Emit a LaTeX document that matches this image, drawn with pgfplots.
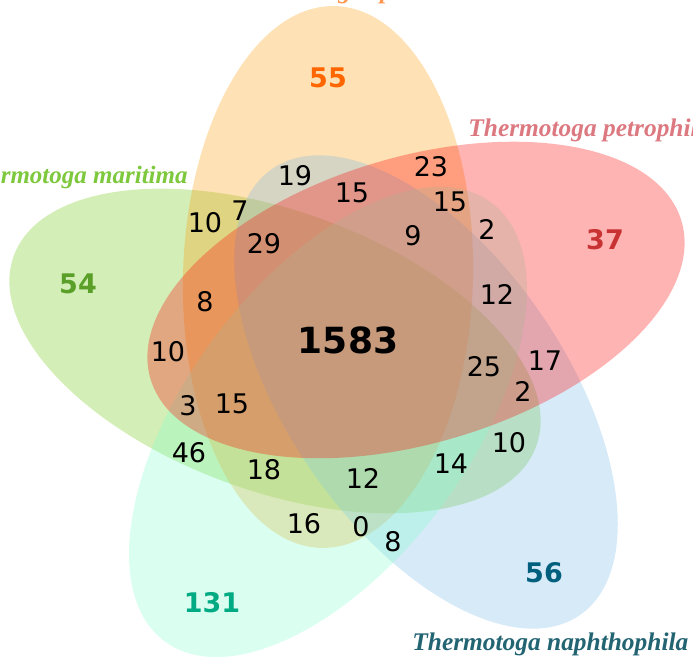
\documentclass[border=0pt]{standalone}
\usepackage{fontspec}
\setmainfont{DejaVu Sans}
\newfontfamily\labfont{Liberation Serif}
\usepackage{pgfplots}
\usepackage{pgfplotstable}
\pgfplotsset{compat=1.18}
\definecolor{cOrange}{RGB}{252,155,5}
\definecolor{cRed}{RGB}{255,5,5}
\definecolor{cGreen}{RGB}{108,198,15}
\definecolor{cCyan}{RGB}{132,255,205}
\definecolor{cBlue}{RGB}{122,185,232}
\definecolor{tOrange}{RGB}{255,102,0}
\definecolor{tRed}{RGB}{200,50,50}
\definecolor{tGreen}{RGB}{90,160,40}
\definecolor{tCyan}{RGB}{0,170,130}
\definecolor{tBlue}{RGB}{0,95,125}
\definecolor{lGreen}{RGB}{125,200,60}
\definecolor{lRed}{RGB}{220,120,128}
\definecolor{lBlue}{RGB}{35,100,115}
\definecolor{lOrange}{RGB}{255,150,80}

\pgfplotstableread{
x y label
295 481 19
352 464 15
431 490 23
450 455 15
205 434 10
240 446 7
264 413 29
413 421 9
487 428 2
205 355 8
497 363 12
168 305 10
545 296 17
484 290 25
523 266 2
188 251 3
232 253 15
189 204 46
509 214 10
264 187 18
451 193 14
363 179 12
304 133 16
361 130 0
393 115 8
}\inner

\begin{document}
\begin{tikzpicture}
\useasboundingbox (0,0) rectangle (346.5pt,328.5pt);
\clip (0,0) rectangle (346.5pt,328.5pt);
\begin{axis}[
  at={(0,0)}, anchor=south west,
  scale only axis, width=346.5pt, height=328.5pt,
  xmin=0, xmax=693, ymin=0, ymax=657,
  hide axis, clip=false,
]
% ellipses (drawing order)
\fill[cGreen, fill opacity=0.3] (axis cs:275,306) ellipse [x radius=139pt, y radius=70pt, rotate=-20];
\fill[cOrange, fill opacity=0.3] (axis cs:328,380) ellipse [x radius=135.5pt, y radius=72.5pt, rotate=88.5];
\fill[cBlue, fill opacity=0.3] (axis cs:426,265) ellipse [x radius=135.5pt, y radius=69.5pt, rotate=-55.4];
\fill[cCyan, fill opacity=0.3] (axis cs:328,235) ellipse [x radius=136.75pt, y radius=70.75pt, rotate=53.3];
\fill[cRed, fill opacity=0.3] (axis cs:416,357) ellipse [x radius=138.5pt, y radius=71.5pt, rotate=16.6];

% intersection counts
\addplot[draw=none, nodes near coords, nodes near coords align=center,
  point meta=explicit symbolic,
  every node near coord/.append style={font=\fontsize{13.5}{16}\selectfont, text=black, anchor=center, inner sep=0pt}]
  table[x=x, y=y, meta=label] {\inner};

% unique counts
\addplot[draw=none, nodes near coords, point meta=explicit symbolic,
  every node near coord/.append style={font=\fontsize{13.5}{16}\selectfont\bfseries, text=tOrange, anchor=center, inner sep=0pt}]
  table[meta=label] {x y label
328 579 55
};
\addplot[draw=none, nodes near coords, point meta=explicit symbolic,
  every node near coord/.append style={font=\fontsize{13.5}{16}\selectfont\bfseries, text=tRed, anchor=center, inner sep=0pt}]
  table[meta=label] {x y label
605 417 37
};
\addplot[draw=none, nodes near coords, point meta=explicit symbolic,
  every node near coord/.append style={font=\fontsize{13.5}{16}\selectfont\bfseries, text=tGreen, anchor=center, inner sep=0pt}]
  table[meta=label] {x y label
78 373 54
};
\addplot[draw=none, nodes near coords, point meta=explicit symbolic,
  every node near coord/.append style={font=\fontsize{13.5}{16}\selectfont\bfseries, text=tCyan, anchor=center, inner sep=0pt}]
  table[meta=label] {x y label
212 54 131
};
\addplot[draw=none, nodes near coords, point meta=explicit symbolic,
  every node near coord/.append style={font=\fontsize{13.5}{16}\selectfont\bfseries, text=tBlue, anchor=center, inner sep=0pt}]
  table[meta=label] {x y label
544 84 56
};
\addplot[draw=none, nodes near coords, point meta=explicit symbolic,
  every node near coord/.append style={font=\fontsize{18}{20}\selectfont\bfseries, text=black, anchor=center, inner sep=0pt}]
  table[meta=label] {x y label
348 317 1583
};

% set names
\node[anchor=base east, inner sep=0pt, text=lGreen, font=\labfont\fontsize{12.5}{14}\selectfont\bfseries\itshape] at (axis cs:188,473) {Thermotoga maritima};
\node[anchor=base west, inner sep=0pt, text=lRed, font=\labfont\fontsize{12.7}{14}\selectfont\bfseries\itshape] at (axis cs:468,520) {Thermotoga petrophila};
\node[anchor=base west, inner sep=0pt, text=lBlue, font=\labfont\fontsize{12.7}{14}\selectfont\bfseries\itshape] at (axis cs:412,6) {Thermotoga naphthophila};
\node[anchor=base west, inner sep=0pt, text=lOrange, font=\labfont\fontsize{12.7}{14}\selectfont\bfseries\itshape] at (axis cs:235,658) {Thermotoga sp.};
\end{axis}
\end{tikzpicture}
\end{document}
